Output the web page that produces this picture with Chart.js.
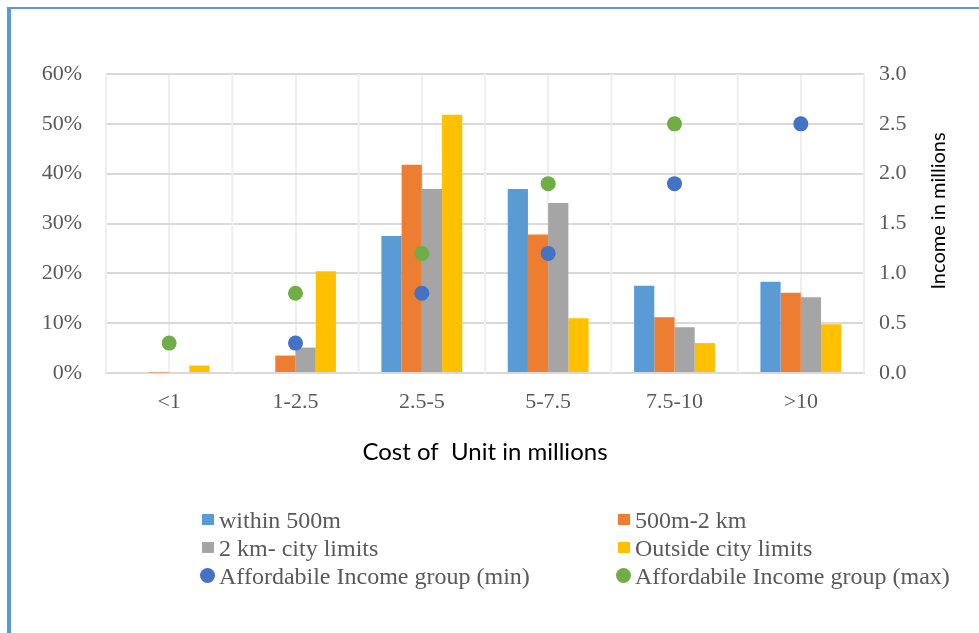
<!doctype html>
<html lang="en">
  <head>
    <meta charset="utf-8">
    <title>Cost of Unit in millions</title>
    <style>
      * {
        margin: 0;
        padding: 0;
      }
      body {
        width: 979px;
        height: 633px;
        overflow: hidden;
        background: #fff;
        position: relative;
      }
      .frame {
        position: absolute;
        left: 7px;
        top: 7px;
        right: -10px;
        bottom: -10px;
        border-left: 4px solid #5b9bd5;
        border-top: 2px solid #5b9bd5;
      }
      .chartBox {
        position: absolute;
        left: 0;
        top: 0;
        width: 979px;
        height: 633px;
      }
      .legend {
        position: absolute;
        left: 0;
        top: 0;
        font-family: "Liberation Serif", serif;
        font-size: 24px;
        color: #595959;
      }
      .legend .item {
        position: absolute;
        white-space: nowrap;
        height: 28px;
        line-height: 28px;
      }
      .legend .mark {
        position: absolute;
      }
    </style>
  </head>
  <body>
    <div class="frame"></div>
    <div class="chartBox">
      <canvas id="myChart" width="979" height="633"></canvas>
    </div>
    <div class="legend" id="legend"></div>

    <script src="https://cdn.jsdelivr.net/npm/chart.js@4.4.1/dist/chart.umd.min.js"></script>
    <script>
    // categories and series
    const categories = ['<1', '1-2.5', '2.5-5', '5-7.5', '7.5-10', '>10'];

    const within500m = [0, 0, 27.5, 36.9, 17.5, 18.3];
    const m500to2km = [0.1, 3.5, 41.8, 27.8, 11.2, 16.1];
    const km2toCity = [0.2, 5.1, 36.9, 34.1, 9.2, 15.2];
    const outsideCity = [1.5, 20.4, 51.8, 11.0, 6.0, 9.8];

    // income in millions (right axis)
    const incomeMin = [null, 0.3, 0.8, 1.2, 1.9, 2.5];
    const incomeMax = [0.3, 0.8, 1.2, 1.9, 2.5, null];

    const leftTicks = [0, 10, 20, 30, 40, 50, 60];
    const rightTicks = [0, 0.5, 1, 1.5, 2, 2.5, 3];

    const tickFont = { family: 'Liberation Serif', size: 22 };
    const tickColor = '#595959';

    const barSet = (label, values, colour) => ({
      type: 'bar',
      label,
      data: values.map(v => v / 100),
      backgroundColor: colour,
      yAxisID: 'y',
      order: 1,
      categoryPercentage: 0.64,
      barPercentage: 1.0
    });

    const dotSet = (label, values, colour) => ({
      type: 'line',
      label,
      data: values,
      showLine: false,
      pointStyle: 'circle',
      pointRadius: 7.5,
      pointHoverRadius: 7.5,
      pointBorderWidth: 0,
      pointBackgroundColor: colour,
      borderColor: colour,
      backgroundColor: colour,
      yAxisID: 'y1',
      order: 0
    });

    const data = {
      labels: categories,
      datasets: [
        barSet('within 500m', within500m, '#5b9bd5'),
        barSet('500m-2 km', m500to2km, '#ed7d31'),
        barSet('2 km- city limits', km2toCity, '#a5a5a5'),
        barSet('Outside city limits', outsideCity, '#ffc000'),
        dotSet('Affordabile Income group (min)', incomeMin, '#4472c4'),
        dotSet('Affordabile Income group (max)', incomeMax, '#70ad47')
      ]
    };

    // vertical lines between categories (the x grid gives the ones at the centres)
    const boundaryLines = {
      id: 'boundaryLines',
      beforeDatasetsDraw(chart) {
        const { ctx, chartArea: { top, bottom }, scales: { x } } = chart;
        const half = (x.getPixelForValue(1) - x.getPixelForValue(0)) / 2;
        ctx.save();
        ctx.strokeStyle = '#efefef';
        ctx.lineWidth = 2;
        for (let i = 0; i <= categories.length; i++) {
          const px = x.getPixelForValue(0) - half + i * half * 2;
          ctx.beginPath();
          ctx.moveTo(px, top);
          ctx.lineTo(px, bottom);
          ctx.stroke();
        }
        ctx.restore();
      }
    };

    // right axis title, reading bottom to top
    const rightTitle = {
      id: 'rightTitle',
      afterDraw(chart) {
        const { ctx } = chart;
        ctx.save();
        ctx.translate(939, 211);
        ctx.rotate(-Math.PI / 2);
        ctx.font = '20px Lato';
        ctx.fillStyle = '#000';
        ctx.textAlign = 'center';
        ctx.textBaseline = 'middle';
        ctx.fillText('Income in millions', 0, 0);
        ctx.restore();
      }
    };

    const config = {
      data,
      options: {
        responsive: false,
        animation: false,
        layout: {
          padding: { left: 0, right: 0, top: 74, bottom: 160 }
        },
        scales: {
          x: {
            type: 'category',
            offset: true,
            grid: { offset: false, color: '#efefef', lineWidth: 2, drawTicks: false },
            border: { color: '#d9d9d9', width: 2 },
            ticks: { font: tickFont, color: tickColor, padding: 16 },
            title: {
              display: true,
              text: 'Cost of  Unit in millions',
              font: { family: 'Lato', size: 24 },
              color: '#000',
              padding: { top: 4, bottom: 6 }
            },
            afterFit(scale) { scale.height = 100; }
          },
          y: {
            position: 'left',
            min: 0,
            max: 0.6,
            afterBuildTicks(scale) {
              scale.ticks = leftTicks.map(v => ({ value: v / 100 }));
            },
            ticks: {
              font: tickFont,
              color: tickColor,
              padding: 24,
              callback: (v) => Math.round(v * 100) + '%'
            },
            grid: { color: '#d9d9d9', lineWidth: 2, drawTicks: false },
            border: { display: false },
            afterFit(scale) { scale.width = 106; }
          },
          y1: {
            position: 'right',
            min: 0,
            max: 3,
            afterBuildTicks(scale) {
              scale.ticks = rightTicks.map(v => ({ value: v }));
            },
            ticks: {
              font: tickFont,
              color: tickColor,
              padding: 15,
              callback: (v) => v.toFixed(1)
            },
            grid: { display: false, drawTicks: false },
            border: { display: false },
            afterFit(scale) { scale.width = 115; }
          }
        },
        plugins: {
          legend: { display: false },
          tooltip: { enabled: false }
        }
      },
      plugins: [boundaryLines, rightTitle]
    };

    const myChart = new Chart(document.getElementById('myChart'), config);

    // legend in two columns, three rows
    const legend = document.getElementById('legend');
    const colX = [200, 616];
    const rowY = [506, 534, 562];
    myChart.data.datasets.forEach((ds, i) => {
      const col = i % 2;
      const row = Math.floor(i / 2);
      const item = document.createElement('div');
      item.className = 'item';
      item.style.left = colX[col] + 'px';
      item.style.top = rowY[row] + 'px';

      const mark = document.createElement('span');
      mark.className = 'mark';
      if (ds.type === 'line') {
        mark.style.left = '0px';
        mark.style.top = '6px';
        mark.style.width = '15px';
        mark.style.height = '15px';
        mark.style.borderRadius = '50%';
        mark.style.background = ds.pointBackgroundColor;
      } else {
        mark.style.left = '2px';
        mark.style.top = '8px';
        mark.style.width = '12px';
        mark.style.height = '11px';
        mark.style.background = ds.backgroundColor;
      }
      const text = document.createElement('span');
      text.style.marginLeft = '19px';
      text.textContent = ds.label;

      item.appendChild(mark);
      item.appendChild(text);
      legend.appendChild(item);
    });
    </script>
  </body>
</html>
